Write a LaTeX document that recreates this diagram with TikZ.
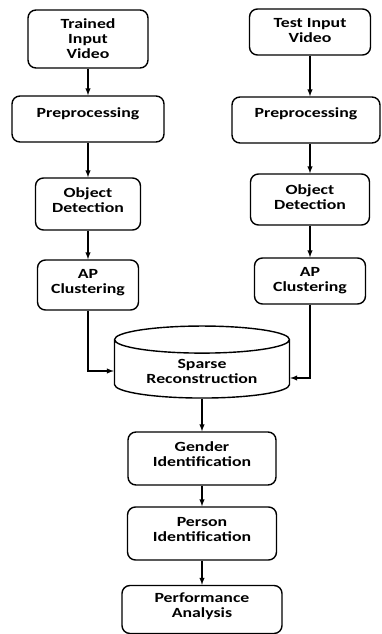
\documentclass[tikz,border=0pt]{standalone}
\usepackage{fontspec}
\setmainfont{Carlito}[FakeStretch=1.27]
\usetikzlibrary{positioning, shapes.geometric}

\tikzset{
  txt/.style={align=center, font=\fontsize{14}{15}\selectfont\bfseries},
  block/.style={txt, draw, rounded corners=8pt, inner sep=2pt, text depth=8pt},
  drum/.style={txt, draw, cylinder, shape border rotate=90, aspect=0.23},
}

\begin{document}
\begin{tikzpicture}[x=1pt, y=-1pt, on grid, >=latex, line width=1.4pt]
  \useasboundingbox (0,0) rectangle (381,634);
  % trained video branch
  \node[block, minimum width=120pt, minimum height=58pt, text depth=0pt] (train) at (88,39) {Trained\\Input\\Video};
  \node[block, minimum width=152pt, minimum height=46pt, text depth=13pt] (pre1) [below=80pt of train] {Preprocessing};
  \node[block, minimum width=105pt, minimum height=52pt] (obj1) [below=85pt of pre1] {Object\\Detection};
  \node[block, minimum width=101pt, minimum height=50pt] (ap1) [below=81pt of obj1] {AP\\Clustering};
  % test video branch
  \node[block, minimum width=121pt, minimum height=46pt, text depth=4pt] (test) at (310,32) {Test Input\\Video};
  \node[block, minimum width=148pt, minimum height=46pt, text depth=14pt] (pre2) [below=88pt of test, xshift=-4pt] {Preprocessing};
  \node[block, minimum width=119pt, minimum height=51pt, text depth=4pt] (obj2) [below=167.5pt of test] {Object\\Detection};
  \node[block, minimum width=111pt, minimum height=46pt, text depth=4pt] (ap2) [below=81.5pt of obj2] {AP\\Clustering};
  % common part
  \node[drum, minimum width=175pt, minimum height=72pt] (sparse) at (202,371) {Sparse\\Reconstruction};
  \node[block, minimum width=148pt, minimum height=53pt] (gender) [below=87.5pt of sparse] {Gender\\Identification};
  \node[block, minimum width=149pt, minimum height=53pt] (person) [below=75pt of gender] {Person\\Identification};
  \node[block, minimum width=160pt, minimum height=48pt] (perf) [below=76pt of person] {Performance\\Analysis};
  \path[->]
  (train) edge (pre1)
  (pre1) edge (obj1)
  (obj1) edge (ap1)
  (obj2) edge (ap2)
  (sparse) edge (gender)
  (gender) edge (person)
  (person) edge (perf)
  ;
  \draw[->] (test.south) -- (test.south |- pre2.north);
  \draw[->] (test.south |- pre2.south) -- (obj2.north);
  \draw[->] (ap1.south) |- (sparse.west);
  \draw[->] (ap2.south) |- ([yshift=-7pt]sparse.east);
\end{tikzpicture}
\end{document}
